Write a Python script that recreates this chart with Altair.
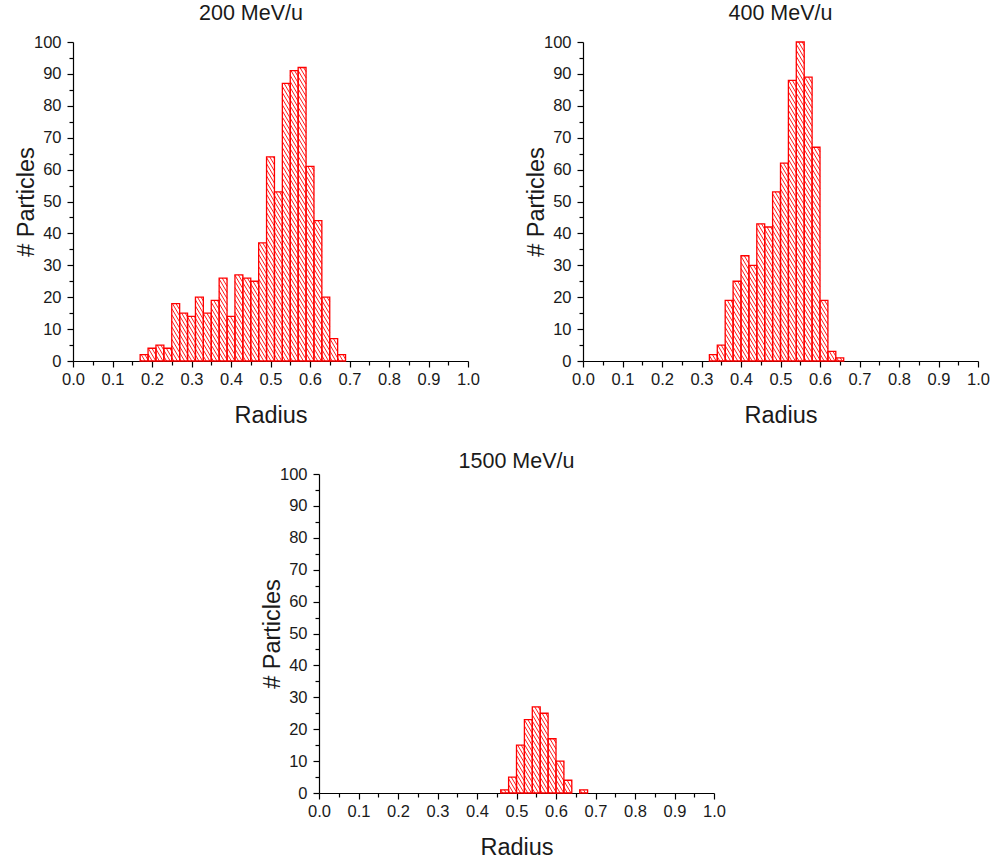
import math
import altair as alt
import pandas as pd

# ---------------- data ----------------
BIN_W = 0.02
titles = ["200 MeV/u", "400 MeV/u", "1500 MeV/u"]

start_200 = 0.17
counts_200 = [2, 4, 5, 4, 18, 15, 14, 20, 15, 19, 26, 14, 27, 26, 25, 37,
              64, 53, 87, 91, 92, 61, 44, 20, 7, 2]

start_400 = 0.32
counts_400 = [2, 5, 19, 25, 33, 30, 43, 42, 53, 62, 88, 100, 89, 67, 19, 3, 1]

start_1500 = 0.46
counts_1500 = [1, 5, 15, 23, 27, 25, 17, 10, 4, 0, 1]

x_tick_values = [round(i * 0.05, 2) for i in range(21)]
y_tick_values = list(range(0, 101, 5))

# ---------------- layout / style ----------------
PW, PH = 395, 319
HATCH_GAP = 3.6     # px, horizontal spacing of hatch lines
HATCH_SLOPE = 1.7   # px down per px right
RED = "#ff0000"
FONT = "Liberation Sans"
TXT = "#1a1a1a"
LABEL_FS = 16.5
TITLE_FS = 23.5
HEAD_FS = 21.5


def bars_df(start, counts):
    rows = []
    for i, c in enumerate(counts):
        if c <= 0:
            continue
        a = round(start + i * BIN_W, 4)
        rows.append({"left": a, "right": round(a + BIN_W, 4), "count": c, "base": 0})
    return pd.DataFrame(rows)


def hatch_df(bars):
    sx = PW / 1.0
    sy = PH / 100.0
    rows = []
    for _, b in bars.iterrows():
        X0, X1 = b["left"] * sx, b["right"] * sx
        H = b["count"] * sy
        n0 = math.floor(X0 / HATCH_GAP)
        n1 = math.ceil((X1 + H / HATCH_SLOPE) / HATCH_GAP)
        for n in range(n0, n1 + 1):
            u = n * HATCH_GAP
            lo = max(X0, u - H / HATCH_SLOPE)
            hi = min(X1, u)
            if hi - lo < 0.3:
                continue
            rows.append({
                "hx": lo / sx, "hy": HATCH_SLOPE * (u - lo) / sy,
                "hx2": hi / sx, "hy2": HATCH_SLOPE * (u - hi) / sy,
            })
    return pd.DataFrame(rows)


x_scale = alt.Scale(domain=[0, 1], nice=False, zero=False)
y_scale = alt.Scale(domain=[0, 100], nice=False)

x_axis = alt.Axis(
    values=x_tick_values,
    labelExpr="abs(datum.value*10 - round(datum.value*10)) < 0.001 ? format(datum.value, '.1f') : ''",
    tickSize={"condition": {"test": "abs(datum.value*10 - round(datum.value*10)) < 0.001", "value": 6}, "value": 4},
    labelOverlap=False, grid=False, labelFontSize=LABEL_FS, titleFontSize=TITLE_FS,
    labelPadding=4, titlePadding=16, labelFlush=False,
)
y_axis = alt.Axis(
    values=y_tick_values,
    labelExpr="datum.value % 10 === 0 ? format(datum.value, 'd') : ''",
    tickSize={"condition": {"test": "datum.value % 10 === 0", "value": 6}, "value": 4},
    labelOverlap=False, grid=False, labelFontSize=LABEL_FS, titleFontSize=TITLE_FS,
    labelPadding=6, titlePadding=-5, labelFlush=False,
)


def panel(start, counts, title, anchor="middle", title_dx=0, title_offset=10):
    bars = bars_df(start, counts)
    hatch = hatch_df(bars)
    h = alt.Chart(hatch).mark_rule(color=RED, strokeWidth=0.9).encode(
        x=alt.X("hx:Q", scale=x_scale, axis=x_axis, title="Radius"),
        y=alt.Y("hy:Q", scale=y_scale, axis=y_axis, title="# Particles"),
        x2="hx2:Q",
        y2="hy2:Q",
    )
    b = alt.Chart(bars).mark_rect(fill="white", fillOpacity=0, stroke=RED, strokeWidth=1.3).encode(
        x=alt.X("left:Q", scale=x_scale, axis=x_axis, title="Radius"),
        x2="right:Q",
        y=alt.Y("count:Q", scale=y_scale, axis=y_axis, title="# Particles"),
        y2="base:Q",
    )
    return alt.layer(h, b).properties(
        width=PW, height=PH,
        title=alt.TitleParams(title, fontSize=HEAD_FS, fontWeight="normal", font=FONT, color=TXT,
                              offset=title_offset, dx=title_dx, anchor=anchor, frame="group"),
    )


p1 = panel(start_200, counts_200, titles[0], anchor="start", title_dx=126)
p2 = panel(start_400, counts_400, titles[1])
p3 = panel(start_1500, counts_1500, titles[2], title_offset=-6)

# invisible spacer that positions the lower panel horizontally
spacer = alt.Chart(pd.DataFrame({"s": [0]})).mark_point(opacity=0).encode(
    x=alt.value(0), y=alt.value(0)
).properties(width=187, height=1)

top = alt.hconcat(p1, p2, spacing=44)
bottom = alt.hconcat(spacer, p3, spacing=0)
chart = alt.vconcat(top, bottom, spacing=23).properties(
    padding={"left": 14, "top": 2, "right": 5, "bottom": 5}
).configure(font=FONT).configure_view(stroke=None).configure_axis(
    domainColor="black", tickColor="black", labelColor=TXT, titleColor=TXT,
    labelFont=FONT, titleFont=FONT, titleFontWeight="normal", domainWidth=1.2, tickWidth=1.2,
)

chart.save("out.html", embed_options={"renderer": "svg", "actions": False})
